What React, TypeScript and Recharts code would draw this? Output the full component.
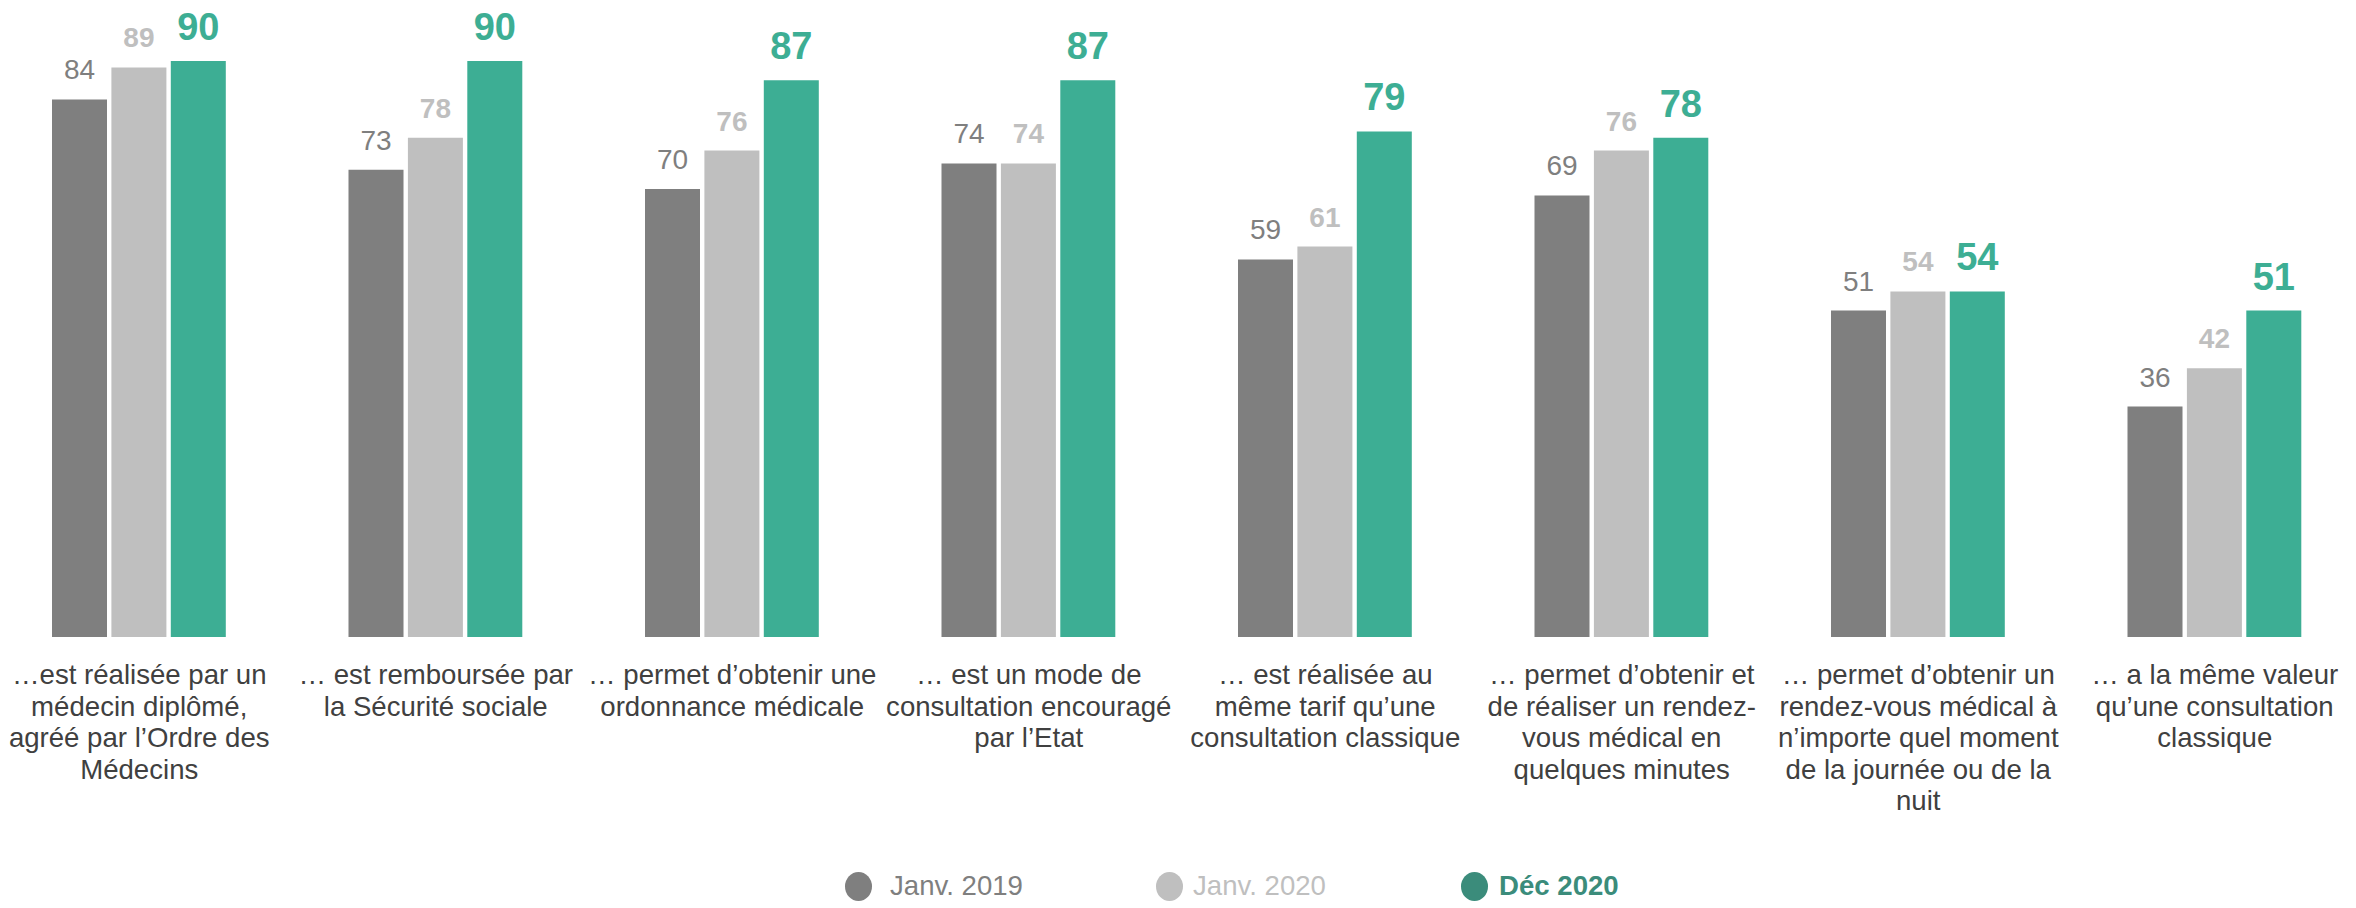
import { BarChart, Bar, XAxis, YAxis, LabelList, Legend } from 'recharts';

const categories = [
  'réalisée par un médecin',
  'remboursée',
  'ordonnance',
  'encouragé par l’Etat',
  'même tarif',
  'rendez-vous rapide',
  'n’importe quel moment',
  'même valeur',
];

const tickLines = [
  ['…est réalisée par un', 'médecin diplômé,', 'agréé par l’Ordre des', 'Médecins'],
  ['… est remboursée par', 'la Sécurité sociale'],
  ['… permet d’obtenir une', 'ordonnance médicale'],
  ['… est un mode de', 'consultation encouragé', 'par l’Etat'],
  ['… est réalisée au', 'même tarif qu’une', 'consultation classique'],
  ['… permet d’obtenir et', 'de réaliser un rendez-', 'vous médical en', 'quelques minutes'],
  ['… permet d’obtenir un', 'rendez-vous médical à', 'n’importe quel moment', 'de la journée ou de la', 'nuit'],
  ['… a la même valeur', 'qu’une consultation', 'classique'],
];

const janv2019 = [84, 73, 70, 74, 59, 69, 51, 36];
const janv2020 = [89, 78, 76, 74, 61, 76, 54, 42];
const dec2020 = [90, 90, 87, 87, 79, 78, 54, 51];

const seriesNames = ['Janv. 2019', 'Janv. 2020', 'Déc 2020'];

const data = categories.map((c, i) => ({
  cat: c,
  v1: janv2019[i],
  v2: janv2020[i],
  v3: dec2020[i],
}));

const FONT = "'Liberation Sans', Arial, sans-serif";

const CategoryTick = (props: any) => {
  const { x, y, payload } = props;
  const lines = tickLines[payload.index] || [];
  return (
    <text x={x} y={y} textAnchor="middle" fill="#404040" fontSize={27.6} fontFamily={FONT}>
      {lines.map((l, i) => (
        <tspan key={i} x={x} dy={i === 0 ? 47 : 31.6}>
          {l}
        </tspan>
      ))}
    </text>
  );
};

const legendItems = [
  { dot: '#7f7f7f', text: '#7f7f7f', bold: false, left: 845, gap: 18 },
  { dot: '#bfbfbf', text: '#bfbfbf', bold: false, left: 1156, gap: 10 },
  { dot: '#3b8c7b', text: '#3b8c7b', bold: true, left: 1461, gap: 11 },
];

const renderLegend = () => (
  <div style={{ position: 'relative', height: 28, fontFamily: FONT }}>
    {seriesNames.map((name, i) => {
      const it = legendItems[i];
      return (
        <div
          key={name}
          style={{
            position: 'absolute',
            left: it.left + 9,
            top: 0,
            display: 'flex',
            alignItems: 'center',
            height: 28,
          }}
        >
          <span
            style={{
              display: 'inline-block',
              width: 27,
              height: 29,
              borderRadius: '50%',
              background: it.dot,
              marginRight: it.gap,
            }}
          />
          <span
            style={{
              fontSize: 27.6,
              lineHeight: '28px',
              color: it.text,
              fontWeight: it.bold ? 'bold' : 'normal',
              whiteSpace: 'nowrap',
            }}
          >
            {name}
          </span>
        </div>
      );
    })}
  </div>
);

export default function App() {
  return (
    <div
      style={{
        position: 'absolute',
        left: 0,
        top: 0,
        width: 2356,
        height: 908,
        overflow: 'hidden',
        background: '#fff',
      }}
    >
      <div style={{ position: 'absolute', left: -9, top: 0 }}>
        <BarChart
          width={2372}
          height={908}
          data={data}
          margin={{ top: 29, right: 0, bottom: 71, left: 0 }}
          barSize={55}
          barGap={4.4}
        >
          <XAxis
            dataKey="cat"
            axisLine={false}
            tickLine={false}
            tickSize={0}
            tickMargin={0}
            interval={0}
            height={200}
            tick={<CategoryTick />}
          />
          <YAxis hide domain={[0, 95]} />
          <Legend
            layout="horizontal"
            verticalAlign="middle"
            align="center"
            wrapperStyle={{ left: 0, top: 872, width: 2372, height: 28 }}
            content={renderLegend}
          />
          <Bar dataKey="v1" name={seriesNames[0]} fill="#7f7f7f" isAnimationActive={false}>
            <LabelList dataKey="v1" position="top" offset={20} fill="#7f7f7f" fontSize={28} fontFamily={FONT} />
          </Bar>
          <Bar dataKey="v2" name={seriesNames[1]} fill="#bfbfbf" isAnimationActive={false}>
            <LabelList
              dataKey="v2"
              position="top"
              offset={20}
              fill="#bfbfbf"
              fontSize={28}
              fontWeight="bold"
              fontFamily={FONT}
            />
          </Bar>
          <Bar dataKey="v3" name={seriesNames[2]} fill="#3dae94" isAnimationActive={false}>
            <LabelList
              dataKey="v3"
              position="top"
              offset={21}
              fill="#3dae94"
              fontSize={38}
              fontWeight="bold"
              fontFamily={FONT}
            />
          </Bar>
        </BarChart>
      </div>
    </div>
  );
}
